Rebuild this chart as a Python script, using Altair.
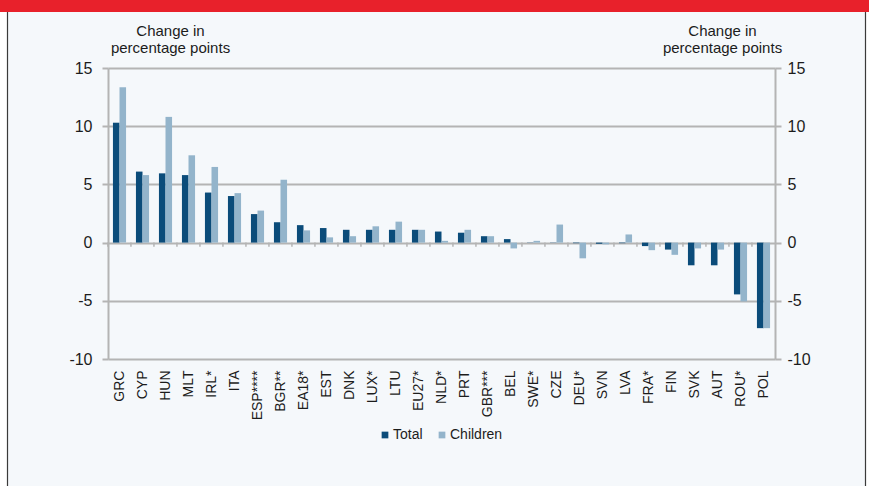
import altair as alt
import pandas as pd

countries = ["GRC", "CYP", "HUN", "MLT", "IRL*", "ITA", "ESP****", "BGR**", "EA18*", "EST",
             "DNK", "LUX*", "LTU", "EU27*", "NLD*", "PRT", "GBR***", "BEL", "SWE*", "CZE",
             "DEU*", "SVN", "LVA", "FRA*", "FIN", "SVK", "AUT", "ROU*", "POL"]
total = [10.3, 6.1, 5.95, 5.8, 4.3, 4.0, 2.45, 1.75, 1.5, 1.25,
         1.1, 1.1, 1.1, 1.1, 0.95, 0.85, 0.55, 0.3, 0.02, 0.02,
         -0.05, -0.1, -0.05, -0.3, -0.6, -1.95, -1.95, -4.45, -7.35]
children = [13.35, 5.8, 10.8, 7.5, 6.5, 4.25, 2.75, 5.4, 1.05, 0.45,
            0.55, 1.4, 1.8, 1.1, 0.15, 1.1, 0.55, -0.5, 0.15, 1.55,
            -1.35, -0.15, 0.7, -0.65, -1.05, -0.5, -0.6, -5.05, -7.35]
series = ["Total", "Children"]
colors = ["#0b4c7a", "#93b4cb"]
y_ticks = [-10, -5, 0, 5, 10, 15]
title_lines = ["Change in", "percentage points"]

rows = []
for c, t, ch in zip(countries, total, children):
    rows.append({"country": c, "series": "Total", "value": t})
    rows.append({"country": c, "series": "Children", "value": ch})
df = pd.DataFrame(rows)
cdf = pd.DataFrame({"country": countries, "zero": 0.0, "tick": -0.35})

FONT = "Liberation Sans"
TXT = "#1c1c1c"
GRID = "#b4b4b4"

W, H = 667, 291
PL, PT = 108, 68

x_enc = alt.X("country:N", sort=countries,
              scale=alt.Scale(paddingInner=0.43, paddingOuter=0.215),
              axis=alt.Axis(title=None, labelAngle=-90, labelFontSize=14, labelFont=FONT,
                            labelColor=TXT, ticks=False, domain=False, labelPadding=11))
y_scale = alt.Scale(domain=[-10, 15], nice=False)

bars = alt.Chart(df).mark_bar().encode(
    x=x_enc,
    xOffset=alt.XOffset("series:N", sort=series, scale=alt.Scale(paddingInner=0, paddingOuter=0)),
    y=alt.Y("value:Q", scale=y_scale,
            axis=alt.Axis(values=y_ticks, orient="left", title=title_lines,
                          labelExpr="'' + datum.value",
                          titleAngle=0, titleAlign="center", titleBaseline="top",
                          titleX=62, titleY=-45, titleFont=FONT, titleFontSize=15,
                          titleFontWeight="normal", titleColor=TXT, titleLineHeight=17,
                          labelFont=FONT, labelFontSize=16, labelColor=TXT, labelPadding=10,
                          grid=True, gridColor=GRID, gridWidth=2,
                          domainColor=GRID, domainWidth=2, tickColor=GRID, tickWidth=2,
                          tickSize=6)),
    y2=alt.datum(0),
    color=alt.Color("series:N", sort=series,
                    scale=alt.Scale(domain=series, range=colors),
                    legend=alt.Legend(title=None, orient="none", legendX=270, legendY=360,
                                      direction="horizontal", symbolType="square",
                                      symbolSize=45, symbolStrokeWidth=0,
                                      labelFont=FONT, labelFontSize=14, labelColor=TXT,
                                      labelOffset=1, columnPadding=12)),
)

ticks = alt.Chart(cdf).mark_rule(color=GRID, strokeWidth=1.5, xOffset=-5).encode(
    x=alt.X("country:N", sort=countries, bandPosition=0),
    y=alt.Y("zero:Q", scale=y_scale,
            axis=alt.Axis(values=y_ticks, orient="right", title=title_lines,
                          labelExpr="'' + datum.value",
                          titleAngle=0, titleAlign="center", titleBaseline="top",
                          titleX=-53, titleY=-45, titleFont=FONT, titleFontSize=15,
                          titleFontWeight="normal", titleColor=TXT, titleLineHeight=17,
                          labelFont=FONT, labelFontSize=16, labelColor=TXT, labelPadding=6,
                          grid=False, domainColor=GRID, domainWidth=2,
                          tickColor=GRID, tickWidth=2, tickSize=6)),
    y2=alt.Y2("tick:Q"),
)

deco = alt.Data(values=[{"a": 1}])
red = alt.Chart(deco).mark_rect(color="#e8212b").encode(
    x=alt.value(-PL), x2=alt.value(869 - PL), y=alt.value(-PT), y2=alt.value(12 - PT))
white_l = alt.Chart(deco).mark_rect(color="#ffffff").encode(
    x=alt.value(-PL), x2=alt.value(7 - PL), y=alt.value(12 - PT), y2=alt.value(486 - PT))
white_r = alt.Chart(deco).mark_rect(color="#ffffff").encode(
    x=alt.value(866 - PL), x2=alt.value(869 - PL), y=alt.value(12 - PT), y2=alt.value(486 - PT))
border_l = alt.Chart(deco).mark_rule(color="#3a3a3a", strokeWidth=1.2).encode(
    x=alt.value(7.5 - PL), y=alt.value(12 - PT), y2=alt.value(486 - PT))
border_r = alt.Chart(deco).mark_rule(color="#3a3a3a", strokeWidth=1.2).encode(
    x=alt.value(865.5 - PL), y=alt.value(12 - PT), y2=alt.value(486 - PT))

chart = alt.layer(red, white_l, white_r, border_l, border_r, bars, ticks).resolve_axis(
    y="independent"
).resolve_scale(y="shared").properties(
    width=W, height=H,
    autosize=alt.AutoSizeParams(type="none"),
    padding={"left": PL, "top": PT, "right": 869 - PL - W, "bottom": 486 - PT - H},
).configure(background="#f5f8fb").configure_view(stroke=None)

chart.save("out.html", embed_options={"renderer": "svg", "actions": False})
